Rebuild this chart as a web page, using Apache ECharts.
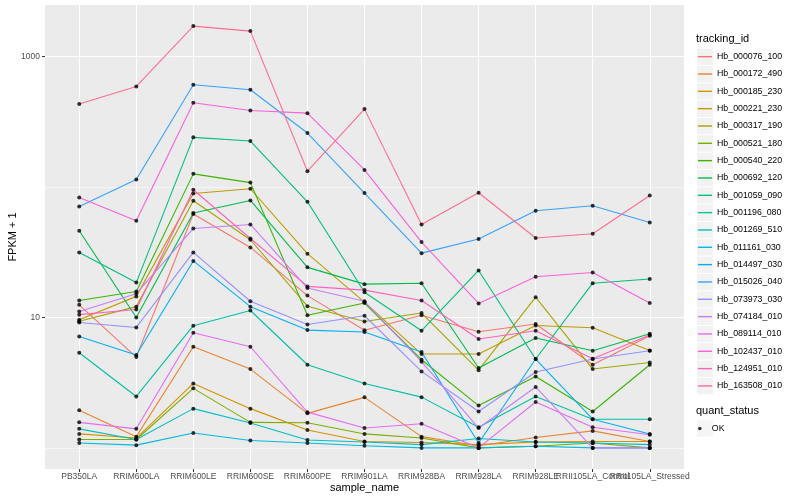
<!DOCTYPE html>
<html><head><meta charset="utf-8">
<script src="https://cdn.jsdelivr.net/npm/echarts@6/dist/echarts.min.js"></script>
<style>html,body{margin:0;padding:0;background:#fff}#c{width:800px;height:500px}</style>
</head><body><div id="c"></div>
<script>
const categories = ['PB350LA','RRIM600LA','RRIM600LE','RRIM600SE','RRIM600PE','RRIM901LA','RRIM928BA','RRIM928LA','RRIM928LE','RRII105LA_Control','RRII105LA_Stressed'];
const trackingIds = ['Hb_000076_100','Hb_000172_490','Hb_000185_230','Hb_000221_230','Hb_000317_190','Hb_000521_180','Hb_000540_220','Hb_000692_120','Hb_001059_090','Hb_001196_080','Hb_001269_510','Hb_011161_030','Hb_014497_030','Hb_015026_040','Hb_073973_030','Hb_074184_010','Hb_089114_010','Hb_102437_010','Hb_124951_010','Hb_163508_010'];
const quantStatus = ['OK'];

// FPKM + 1 values, one array per tracking_id, in category order
const Hb_000076_100 = [12.5, 4.97, 62.0, 34.4, 14.7, 7.98, 10.4, 7.77, 8.90, 4.34, 7.24];
const Hb_000172_490 = [1.94, 1.22, 5.96, 4.02, 1.84, 2.44, 1.22, 1.04, 1.20, 1.35, 1.12];
const Hb_000185_230 = [1.28, 1.19, 3.12, 2.00, 1.37, 1.12, 1.10, 1.06, 1.11, 1.12, 1.12];
const Hb_000221_230 = [9.60, 14.5, 89.2, 96.9, 30.8, 13.1, 5.24, 5.24, 8.68, 8.34, 5.59];
const Hb_000317_190 = [9.35, 12.1, 78.4, 39.4, 12.2, 9.30, 10.8, 3.94, 14.3, 4.02, 4.52];
const Hb_000521_180 = [1.16, 1.16, 2.86, 1.57, 1.56, 1.28, 1.19, 1.00, 1.03, 1.09, 1.00];
const Hb_000540_220 = [13.5, 15.8, 126, 108, 10.4, 12.9, 4.74, 2.11, 3.53, 1.90, 4.34];
const Hb_000692_120 = [46.2, 10.0, 63.1, 78.8, 24.2, 18.0, 18.3, 4.10, 6.95, 5.56, 7.50];
const Hb_001059_090 = [31.5, 18.5, 240, 225, 77.0, 15.6, 7.91, 22.9, 4.80, 18.3, 19.7];
const Hb_001196_080 = [5.36, 2.48, 8.64, 11.3, 4.34, 3.12, 2.45, 1.44, 2.48, 1.66, 1.66];
const Hb_001269_510 = [1.40, 1.16, 2.00, 1.55, 1.15, 1.11, 1.06, 1.18, 1.11, 1.09, 1.06];
const Hb_011161_030 = [1.09, 1.05, 1.30, 1.14, 1.09, 1.04, 1.00, 1.00, 1.03, 1.00, 1.00];
const Hb_014497_030 = [7.15, 5.15, 27.1, 12.1, 8.00, 7.73, 5.43, 1.09, 4.80, 1.66, 1.28];
const Hb_015026_040 = [70.9, 114, 607, 556, 259, 89.8, 31.1, 39.9, 65.7, 71.8, 53.5];
const Hb_073973_030 = [9.15, 8.38, 31.5, 13.3, 8.84, 10.3, 3.86, 1.90, 3.82, 4.80, 5.56];
const Hb_074184_010 = [11.1, 15.2, 48.1, 51.6, 16.8, 13.3, 4.58, 1.42, 2.93, 1.00, 1.00];
const Hb_089114_010 = [1.57, 1.40, 7.64, 5.96, 1.88, 1.42, 1.53, 1.00, 2.25, 1.44, 1.26];
const Hb_102437_010 = [83.1, 55.1, 442, 386, 368, 135, 37.8, 12.8, 20.5, 22.1, 12.9];
const Hb_124951_010 = [10.5, 11.5, 95.2, 40.3, 17.3, 16.2, 13.5, 6.83, 7.91, 4.83, 7.33];
const Hb_163508_010 = [432, 589, 1710, 1565, 132, 395, 51.6, 90.3, 40.6, 43.8, 86.1];

const seriesValues = [Hb_000076_100, Hb_000172_490, Hb_000185_230, Hb_000221_230, Hb_000317_190, Hb_000521_180, Hb_000540_220, Hb_000692_120, Hb_001059_090, Hb_001196_080, Hb_001269_510, Hb_011161_030, Hb_014497_030, Hb_015026_040, Hb_073973_030, Hb_074184_010, Hb_089114_010, Hb_102437_010, Hb_124951_010, Hb_163508_010];
const lineColors = ['#F8766D','#EA8331','#D89000','#C09B00','#A3A500','#7CAE00','#39B600','#00BB4E','#00BF7D','#00C1A3','#00BFC4','#00BAE0','#00B0F6','#35A2FF','#9590FF','#C77CFF','#E76BF3','#FA62DB','#FF62BC','#FF6C91'];
const yMajorTicks = [10, 1000];
const yMinorTicks = [1, 100];

const FONT = '"Liberation Sans", Arial, Helvetica, sans-serif';
const xs = categories.map((c, i) => i + 1);
// labels split over two axes so that overlapping neighbours are both drawn (as in the reference)
const xsOdd = xs.filter(v => v % 2 === 1);
const xsEven = xs.filter(v => v % 2 === 0);
const allVals = seriesValues.flat();
const lmin = Math.log10(Math.min(...allVals)), lmax = Math.log10(Math.max(...allVals));
const pad = (lmax - lmin) * 0.05;
const yMin = Math.pow(10, lmin - pad), yMax = Math.pow(10, lmax + pad);

const chart = echarts.init(document.getElementById('c'), null, {renderer: 'canvas'});

const lineSeries = trackingIds.map((id, k) => ({
  name: id, type: 'line', xAxisIndex: 0, yAxisIndex: 0,
  data: seriesValues[k].map((v, i) => [i + 1, v]),
  symbol: 'none', showSymbol: false,
  lineStyle: {color: lineColors[k], width: 1.1},
  itemStyle: {color: lineColors[k]},
  silent: true, animation: false, z: 2
}));
const pointSeries = {
  name: quantStatus[0], type: 'scatter', xAxisIndex: 0, yAxisIndex: 0,
  data: seriesValues.flatMap(vals => vals.map((v, i) => [i + 1, v])),
  symbol: 'circle', symbolSize: 4, itemStyle: {color: '#000'},
  silent: true, animation: false, z: 3
};

const xLabelStyle = {formatter: v => categories[Math.round(v) - 1], color: '#4D4D4D', fontSize: 8.5, fontFamily: FONT, margin: 3, hideOverlap: false, showMinLabel: true, showMaxLabel: true};

const option = {
  animation: false,
  backgroundColor: '#fff',
  title: [
    {text: 'tracking_id', left: 696, top: 33, padding: 0, textStyle: {fontSize: 11, fontWeight: 'normal', color: '#000', fontFamily: FONT}},
    {text: 'quant_status', left: 696, top: 405, padding: 0, textStyle: {fontSize: 11, fontWeight: 'normal', color: '#000', fontFamily: FONT}}
  ],
  grid: {left: 45, right: 116, top: 5, bottom: 31, show: true, backgroundColor: '#EBEBEB', borderWidth: 0, containLabel: false, outerBoundsMode: 'none'},
  xAxis: [
    {
      type: 'value', min: 0.4, max: 11.6, position: 'bottom',
      axisLine: {show: false},
      axisTick: {show: true, length: 3, lineStyle: {color: '#333', width: 1}, customValues: xs},
      axisLabel: Object.assign({customValues: xsOdd}, xLabelStyle),
      splitLine: {show: true, lineStyle: {color: '#fff', width: 1}},
      name: 'sample_name', nameLocation: 'middle', nameGap: 13, nameMoveOverlap: false,
      nameTextStyle: {color: '#000', fontSize: 11, fontFamily: FONT}
    },
    {
      type: 'value', min: 0.4, max: 11.6, position: 'bottom', offset: 0,
      axisLine: {show: false},
      axisTick: {show: false, customValues: xsEven},
      axisLabel: Object.assign({customValues: xsEven}, xLabelStyle),
      splitLine: {show: false}
    }
  ],
  yAxis: [
    {
      type: 'log', logBase: 10, min: yMin, max: yMax,
      axisLine: {show: false},
      axisTick: {show: true, length: 3, lineStyle: {color: '#333', width: 1}, customValues: yMajorTicks},
      axisLabel: {customValues: yMajorTicks, formatter: v => String(Math.round(v)), color: '#4D4D4D', fontSize: 8.5, fontFamily: FONT, margin: 5, showMinLabel: true, showMaxLabel: true},
      splitLine: {show: true, lineStyle: {color: '#fff', width: 1}},
      minorTick: {show: false}, minorSplitLine: {show: false},
      name: 'FPKM + 1', nameLocation: 'middle', nameGap: 27, nameRotate: 90, nameMoveOverlap: false,
      nameTextStyle: {color: '#000', fontSize: 11, fontFamily: FONT}
    },
    {
      type: 'log', logBase: 10, min: yMin, max: yMax, position: 'left',
      axisLine: {show: false},
      axisTick: {show: false, customValues: yMinorTicks},
      axisLabel: {show: false, customValues: yMinorTicks},
      splitLine: {show: true, lineStyle: {color: '#fff', width: 0.5}}
    }
  ],
  legend: [
    {data: trackingIds, orient: 'vertical', left: 697, top: 48.7, padding: 0, itemWidth: 16, itemHeight: 16.3, itemGap: 1.03,
     icon: 'rect', itemStyle: {color: '#F2F2F2', borderWidth: 0}, formatter: () => '', textStyle: {fontSize: 1}, selectedMode: false, z: 3},
    {data: trackingIds, orient: 'vertical', left: 698, top: 48, padding: 0, itemWidth: 14, itemHeight: 1.4, itemGap: 0,
     icon: 'path://M0,0H10V1H0Z', itemStyle: {borderWidth: 0}, selectedMode: false, z: 4,
     textStyle: {fontSize: 8.8, color: '#000', fontFamily: FONT, lineHeight: 17.33}},
    {data: quantStatus, orient: 'vertical', left: 697, top: 420.3, padding: 0, itemWidth: 16, itemHeight: 16.3,
     icon: 'rect', itemStyle: {color: '#F2F2F2', borderWidth: 0}, formatter: () => '', textStyle: {fontSize: 1}, selectedMode: false, z: 3},
    {data: quantStatus, orient: 'vertical', left: 698, top: 419.8, padding: 0, itemWidth: 14, itemHeight: 3.6,
     icon: 'circle', itemStyle: {color: '#000', borderWidth: 0}, selectedMode: false, z: 4,
     textStyle: {fontSize: 8.8, color: '#000', fontFamily: FONT, lineHeight: 17.33}}
  ],
  series: [...lineSeries, pointSeries]
};
chart.setOption(option);
</script>
</body></html>
